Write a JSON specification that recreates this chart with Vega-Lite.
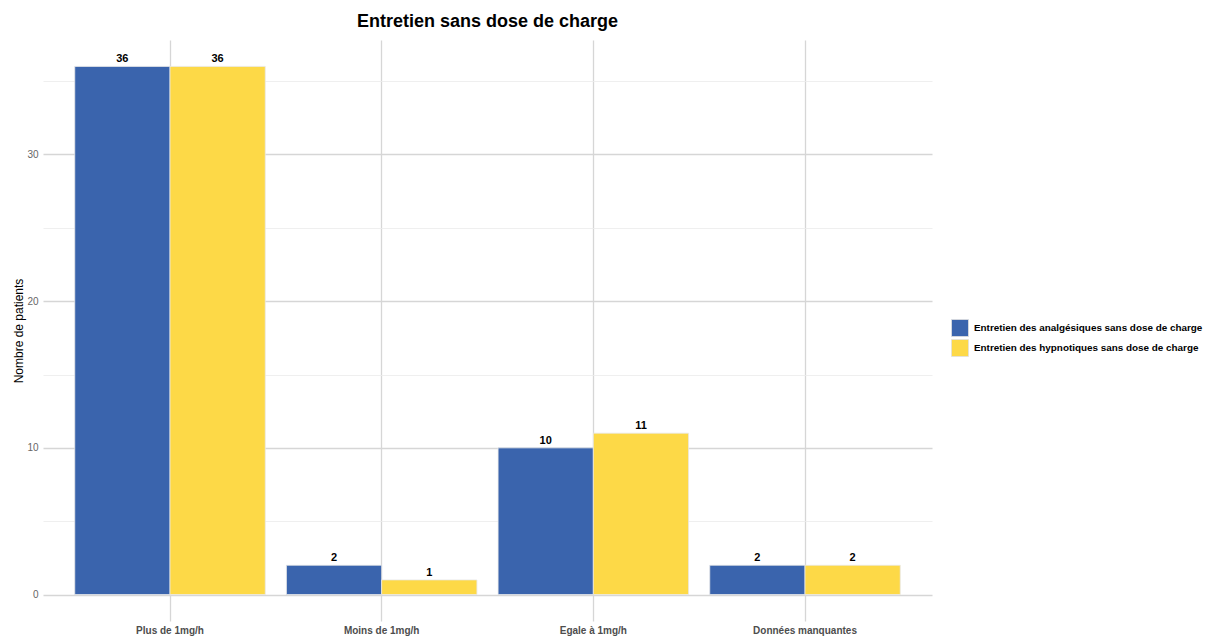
{
  "$schema": "https://vega.github.io/schema/vega-lite/v6.json",
  "autosize": {"type": "none"},
  "width": 889,
  "height": 581,
  "padding": {"left": 43, "top": 40, "right": 273, "bottom": 16},
  "background": "white",
  "config": {
    "font": "Liberation Sans",
    "view": {"stroke": null},
    "axis": {"domain": false, "ticks": false}
  },
  "title": {
    "text": "Entretien sans dose de charge",
    "fontSize": 18,
    "fontWeight": "bold",
    "color": "#000000",
    "anchor": "middle",
    "offset": 9
  },
  "data": {
    "values": [
      {"categorie": "Plus de 1mg/h", "serie": "Entretien des analgésiques sans dose de charge", "n": 36},
      {"categorie": "Plus de 1mg/h", "serie": "Entretien des hypnotiques sans dose de charge", "n": 36},
      {"categorie": "Moins de 1mg/h", "serie": "Entretien des analgésiques sans dose de charge", "n": 2},
      {"categorie": "Moins de 1mg/h", "serie": "Entretien des hypnotiques sans dose de charge", "n": 1},
      {"categorie": "Egale à 1mg/h", "serie": "Entretien des analgésiques sans dose de charge", "n": 10},
      {"categorie": "Egale à 1mg/h", "serie": "Entretien des hypnotiques sans dose de charge", "n": 11},
      {"categorie": "Données manquantes", "serie": "Entretien des analgésiques sans dose de charge", "n": 2},
      {"categorie": "Données manquantes", "serie": "Entretien des hypnotiques sans dose de charge", "n": 2}
    ]
  },
  "encoding": {
    "x": {
      "field": "categorie",
      "type": "nominal",
      "sort": ["Plus de 1mg/h", "Moins de 1mg/h", "Egale à 1mg/h", "Données manquantes"],
      "scale": {"paddingInner": 0.1, "paddingOuter": 0.15},
      "axis": {
        "title": null,
        "labelAngle": 0,
        "labelFontSize": 10,
        "labelFontWeight": "bold",
        "labelColor": "#4d4d4d",
        "labelPadding": 4,
        "grid": true,
        "bandPosition": 0.5,
        "gridColor": "#d6d6d6",
        "gridWidth": 1.3
      }
    },
    "xOffset": {
      "field": "serie",
      "type": "nominal",
      "sort": ["Entretien des analgésiques sans dose de charge", "Entretien des hypnotiques sans dose de charge"]
    },
    "y": {
      "field": "n",
      "type": "quantitative",
      "scale": {"domain": [-1.8, 37.8], "nice": false, "zero": false},
      "axis": {
        "title": "Nombre de patients",
        "titleFontSize": 12,
        "titleFontWeight": "normal",
        "titleColor": "#000000",
        "titlePadding": 1,
        "values": [0, 5, 10, 15, 20, 25, 30, 35],
        "labelExpr": "datum.value % 10 === 0 ? datum.label : ''",
        "labelFontSize": 10,
        "labelColor": "#666666",
        "labelPadding": 5,
        "grid": true,
        "gridColor": {"condition": {"test": "datum.value % 10 === 0", "value": "#d6d6d6"}, "value": "#ebebeb"},
        "gridWidth": {"condition": {"test": "datum.value % 10 === 0", "value": 1.3}, "value": 0.8}
      }
    }
  },
  "layer": [
    {
      "mark": {"type": "bar", "stroke": "#e8e8e8", "strokeWidth": 0.8},
      "encoding": {
        "color": {
          "field": "serie",
          "type": "nominal",
          "scale": {
            "domain": ["Entretien des analgésiques sans dose de charge", "Entretien des hypnotiques sans dose de charge"],
            "range": ["#3A64AD", "#FDD947"]
          },
          "legend": {
            "title": null,
            "orient": "none",
            "legendX": 908,
            "legendY": 279,
            "symbolType": "square",
            "symbolSize": 289,
            "symbolStrokeColor": "#e0e0e0",
            "symbolStrokeWidth": 0.8,
            "labelFontSize": 9.9,
            "labelFontWeight": "bold",
            "labelColor": "#000000",
            "labelOffset": 5,
            "rowPadding": -3,
            "labelLimit": 400
          }
        }
      }
    },
    {
      "mark": {"type": "text", "baseline": "bottom", "dy": -2, "fontSize": 11, "fontWeight": "bold", "color": "#000000"},
      "encoding": {
        "text": {"field": "n", "type": "quantitative"}
      }
    }
  ]
}
